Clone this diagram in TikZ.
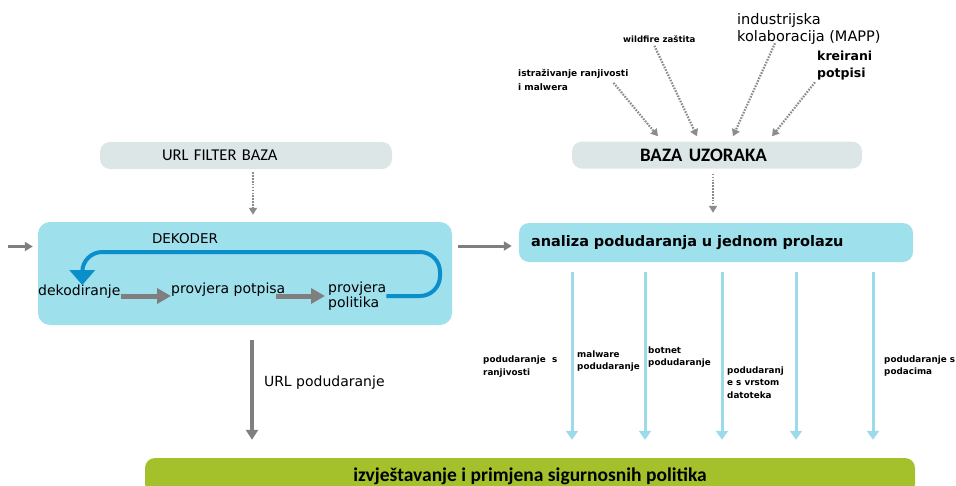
\documentclass[tikz,border=0pt]{standalone}
\usepackage{fontspec}
\setmainfont{DejaVu Sans}
\newfontfamily\carlito{Carlito}
\usetikzlibrary{arrows.meta}
\usetikzlibrary{positioning}
\definecolor{bazagray}{HTML}{DDE6E7}
\definecolor{dekcyan}{HTML}{9FE0ED}
\definecolor{izvgreen}{HTML}{A4C12C}
\definecolor{loopblue}{HTML}{0B8FCB}
\definecolor{downcyan}{HTML}{9CDBEA}
\definecolor{arrgray}{HTML}{7F7F7F}
\definecolor{dotgray}{HTML}{8C8C8C}
\tikzstyle{base} = [rectangle, rounded corners=10pt, draw=none, inner sep=0pt, text centered]
\tikzstyle{bazabox} = [base, fill=bazagray, minimum width=290pt, minimum height=26pt]
\tikzstyle{dekbox} = [base, fill=dekcyan, rounded corners=12pt]
\tikzstyle{izvbox} = [base, fill=izvgreen, font=\carlito\bfseries\fontsize{19.5}{22}\selectfont]
\tikzstyle{proclabel} = [inner sep=0pt, align=left, font=\fontsize{14}{15}\selectfont]
\tikzstyle{smalllabel} = [inner sep=0pt, align=left, font=\bfseries\fontsize{8.8}{12.5}\selectfont]
\tikzstyle{dotarrow} = [draw=dotgray, line width=2.2pt, dash pattern=on 1.6pt off 1.3pt, -{Triangle[length=7pt,width=8pt]}]
\tikzstyle{grayarrow} = [draw=arrgray, line width=4pt, -{Triangle[length=10pt,width=12pt]}]
\tikzstyle{thickgray} = [draw=arrgray, line width=5pt, -{Triangle[length=14pt,width=15pt]}]
\tikzstyle{thingray} = [draw=arrgray, line width=3pt, -{Triangle[length=8pt,width=9pt]}]
\tikzstyle{matcharrow} = [draw=downcyan, line width=3pt, -{Triangle[length=9pt,width=12pt]}]
\tikzstyle{looparrow} = [draw=loopblue, line width=4pt, rounded corners=20pt, -{Triangle[length=15pt,width=25pt]}]

\begin{document}
\begin{tikzpicture}[x=1pt, y=-1pt]
  \useasboundingbox (0,0) rectangle (956,485);
  % left side: url filter and decoder
  \node (urlbaza) [bazabox, minimum width=292pt, minimum height=27pt, text width=168pt, align=left, font=\carlito\fontsize{16.5}{18}\selectfont] at (246,155.5) {URL FILTER BAZA};
  \node (dekoder) [dekbox, minimum width=414pt, minimum height=103pt] at (245,273.5) {};
  \node (dektxt)  [proclabel, font=\fontsize{13.5}{15}\selectfont] at (185,239) {DEKODER};
  \node (dekod)   [proclabel, anchor=west] at (38,292) {dekodiranje};
  \node (potpis)  [proclabel, anchor=west] at (171,290) {provjera potpisa};
  \node (politika) [proclabel, anchor=west] at (328,296) {provjera\\politika};
  \coordinate (looptop) at (440,252);
  \coordinate (ulaz) at (8,246.5);

  % right side: samples and single pass analysis
  \node (baza) [bazabox, minimum height=27pt, text width=154pt, align=left, font=\carlito\bfseries\fontsize{19}{20}\selectfont] at (717,155) {BAZA UZORAKA};
  \node (analiza) [base, fill=dekcyan, minimum width=394pt, minimum height=39pt, text width=370pt, align=left, font=\bfseries\fontsize{14.5}{17}\selectfont] at (716,242.5) {analiza podudaranja u jednom prolazu};
  \node (istr)     [smalllabel, anchor=west, font=\bfseries\fontsize{9}{14}\selectfont] at (518,80) {istraživanje ranjivosti\\i malwera};
  \node (wildfire) [smalllabel, anchor=west, font=\bfseries\fontsize{8.6}{12}\selectfont] at (623,39) {wildfire zaštita};
  \node (industr)  [proclabel, anchor=west, font=\fontsize{14.5}{17}\selectfont] at (737,28.5) {industrijska\\kolaboracija (MAPP)};
  \node (kreirani) [proclabel, anchor=west, font=\bfseries\fontsize{12.5}{17}\selectfont] at (817,65.5) {kreirani\\potpisi};

  \node (ranj) [smalllabel, anchor=west] at (483,366.5) {podudaranje\ \ s\\ranjivosti};
  \node (malw) [smalllabel, anchor=west] at (577,361) {malware\\podudaranje};
  \node (botn) [smalllabel, anchor=west] at (648,357) {botnet\\podudaranje};
  \node (vrst) [smalllabel, anchor=west] at (727,382.5) {podudaranj\\e s vrstom\\datoteka};
  \node (poda) [smalllabel, anchor=west] at (884,366) {podudaranje s\\podacima};

  \node (izv) [izvbox, minimum width=770pt, minimum height=36pt] at (530,476) {izvještavanje i primjena sigurnosnih politika};

  \draw[dotarrow, shorten <=3pt, shorten >=7pt] ([xshift=7pt]urlbaza.south) -- ([xshift=8pt]dekoder.north);
  \draw[thingray] (ulaz) -- ([xshift=-5pt,yshift=27pt]dekoder.west);
  \draw[thickgray] ([yshift=-4pt]dekod.east) -- ([yshift=-4pt]dekod.east -| potpis.west);
  \draw[thickgray] ([xshift=-9pt,yshift=-6pt]potpis.east) -- ([xshift=-3pt,yshift=-6pt]potpis.east -| politika.west);
  \draw[looparrow] (politika.east) -| (looptop) -| ([xshift=3pt]dekod.north);
  \draw[grayarrow, shorten <=15pt, shorten >=18pt] ([xshift=7pt]dekoder.south) -- node[proclabel, pos=0.43, right=10pt] (urlpod) {URL podudaranje} ([xshift=7pt]dekoder.south |- izv.north);
  \draw[thingray] ([xshift=6pt,yshift=27.5pt]dekoder.east) -- ([xshift=-7pt,yshift=-3.5pt]analiza.west);

  \draw[dotarrow] ([xshift=-15pt,yshift=8pt]istr.south east) -- ([xshift=-59pt,yshift=5pt]baza.north);
  \draw[dotarrow] ([xshift=-5pt,yshift=-3pt]wildfire.south) -- ([xshift=-20pt,yshift=5pt]baza.north);
  \draw[dotarrow] ([xshift=38pt,yshift=1pt]industr.south west) -- ([xshift=16pt,yshift=5pt]baza.north);
  \draw[dotarrow] ([xshift=-2pt,yshift=-2pt]kreirani.south west) -- ([xshift=55pt,yshift=5pt]baza.north);
  \draw[dotarrow, shorten <=5pt, shorten >=10pt] ([xshift=-4pt]baza.south) -- ([xshift=-3pt]analiza.north);

  \draw[matcharrow, shorten <=10pt, shorten >=18pt] ([xshift=-144pt]analiza.south) -- ([xshift=-144pt]analiza.south |- izv.north);
  \draw[matcharrow, shorten <=10pt, shorten >=18pt] ([xshift=-71pt]analiza.south) -- ([xshift=-71pt]analiza.south |- izv.north);
  \draw[matcharrow, shorten <=10pt, shorten >=18pt] ([xshift=6pt]analiza.south) -- ([xshift=6pt]analiza.south |- izv.north);
  \draw[matcharrow, shorten <=10pt, shorten >=18pt] ([xshift=80pt]analiza.south) -- ([xshift=80pt]analiza.south |- izv.north);
  \draw[matcharrow, shorten <=10pt, shorten >=18pt] ([xshift=157pt]analiza.south) -- ([xshift=157pt]analiza.south |- izv.north);
\end{tikzpicture}
\end{document}
